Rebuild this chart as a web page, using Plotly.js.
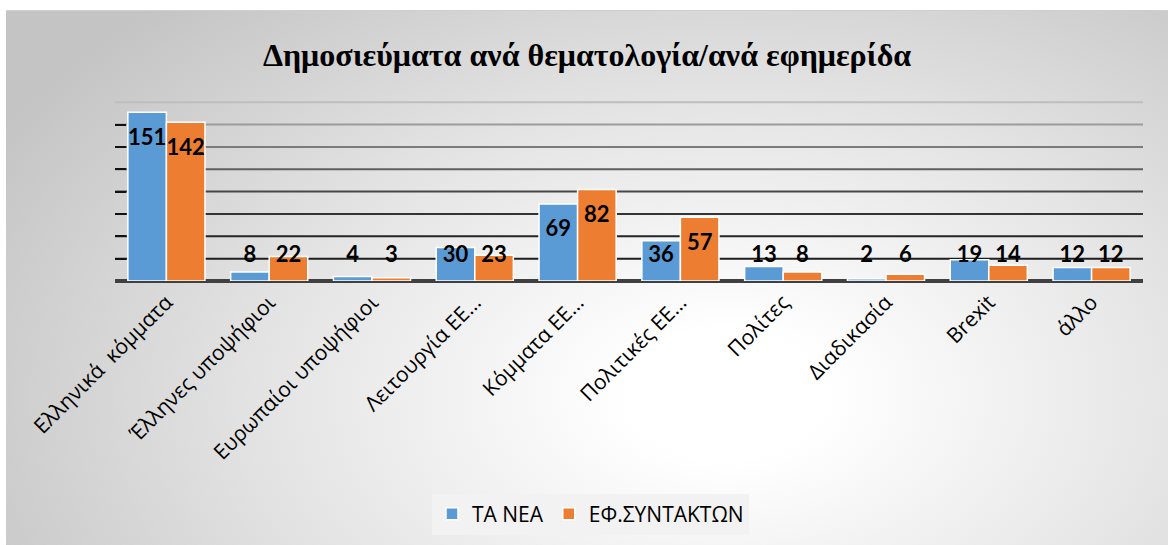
<!DOCTYPE html>
<html>
<head>
<meta charset="utf-8">
<script src="https://cdn.plot.ly/plotly-3.0.1.min.js"></script>
<style>
  html, body { margin: 0; padding: 0; background: #ffffff; width: 1168px; height: 545px; overflow: hidden; }
  #card {
    position: absolute; left: 6px; top: 10px; width: 1162px; height: 535px;
    border-top: 1px solid #cfcfcf;
    box-sizing: border-box;
    background: radial-gradient(ellipse 72% 100% at 62% 72%, #ffffff 12%, #e4e4e4 55%, #c4c4c4 100%);
  }
  #chart { width: 1162px; height: 534px; }
</style>
</head>
<body>
<div id="card"><div id="chart"></div></div>
<script>
const categories = [
  "Ελληνικά  κόμματα", "Έλληνες υποψήφιοι", "Ευρωπαίοι υποψήφιοι",
  "Λειτουργία ΕΕ…", "Κόμματα ΕΕ…", "Πολιτικές ΕΕ…",
  "Πολίτες", "Διαδικασία", "Brexit", "άλλο"
];
const seriesNames = ["ΤΑ ΝΕΑ", "ΕΦ.ΣΥΝΤΑΚΤΩΝ"];
const taNea = [151, 8, 4, 30, 69, 36, 13, 2, 19, 12];
const efSyn = [142, 22, 3, 23, 82, 57, 8, 6, 14, 12];
const gridValues = [20, 40, 60, 80, 100, 120, 140, 160];
const tickValues = [0, 20, 40, 60, 80, 100, 120, 140];
const colors = ["#5b9bd5", "#ed7d31"];

// data labels sit just inside the top of tall bars, and at a common level for short ones
const labelY = vals => vals.map(v => Math.max(v - 24, 22));

const bars = [taNea, efSyn].map((vals, i) => ({
  type: "bar",
  name: seriesNames[i],
  x: categories,
  y: vals,
  marker: { color: colors[i], line: { color: "#ffffff", width: 1.5 } },
  hoverinfo: "none"
}));

const labels = [taNea, efSyn].map((vals, i) => ({
  type: "scatter",
  mode: "text",
  x: categories,
  y: labelY(vals),
  text: vals.map(String),
  textposition: "middle center",
  textfont: { family: "Lato, 'DejaVu Sans', sans-serif", size: 22, color: "#000000", weight: 700 },
  showlegend: false,
  cliponaxis: false,
  hoverinfo: "none"
}));

// gridlines fade from dark near the baseline to light at the top (as in the reference's styling)
function gridShade(k, n) {
  const c = Math.round(30 + (190 - 30) * Math.pow(k / (n - 1), 1.6));
  return `rgb(${c},${c},${c})`;
}
const gridShapes = gridValues.map((v, k) => ({
  type: "line", xref: "paper", yref: "y",
  x0: 0, x1: 1, y0: v, y1: v,
  layer: "below",
  line: { color: gridShade(k, gridValues.length), width: 2 }
}));

const layout = {
  width: 1162,
  height: 534,
  paper_bgcolor: "rgba(0,0,0,0)",
  plot_bgcolor: "rgba(0,0,0,0)",
  margin: { l: 109, r: 25, t: 89, b: 264 },
  barmode: "group",
  bargap: 0.25,
  bargroupgap: 0,
  scattermode: "group",
  scattergap: 0.25,
  title: {
    text: "Δημοσιεύματα ανά θεματολογία/ανά εφημερίδα",
    font: { family: "'Liberation Serif', 'Times New Roman', serif", size: 32, color: "#000000", weight: 700 },
    x: 0.5, xanchor: "center",
    yref: "container",
    y: 0.918, yanchor: "middle"
  },
  xaxis: {
    type: "category",
    tickangle: -45,
    tickfont: { family: "'Open Sans', 'Noto Sans', sans-serif", size: 21, color: "#000000" },
    ticklabelshift: 0,
    ticklabelstandoff: 4,
    showgrid: false,
    showline: false,
    ticks: "",
    automargin: false
  },
  yaxis: {
    range: [0, 162],
    tickmode: "array",
    tickvals: tickValues,
    showticklabels: false,
    showgrid: false,
    ticks: "inside",
    ticklen: 11,
    tickwidth: 2,
    tickcolor: "#111111",
    zeroline: true,
    zerolinecolor: "#404040",
    zerolinewidth: 4,
    showline: false,
    automargin: false
  },
  shapes: gridShapes,
  showlegend: true,
  legend: {
    orientation: "h",
    xref: "container",
    x: 0.503, xanchor: "center",
    yref: "container",
    y: 0.058, yanchor: "middle",
    bgcolor: "#f2f2f2",
    borderwidth: 0,
    font: { family: "'Open Sans', 'Noto Sans', sans-serif", size: 21, color: "#000000" },
    itemwidth: 30,
    traceorder: "normal"
  },
  hovermode: false
};

Plotly.newPlot("chart", bars.concat(labels), layout, { displayModeBar: false, staticPlot: true });
</script>
</body>
</html>
